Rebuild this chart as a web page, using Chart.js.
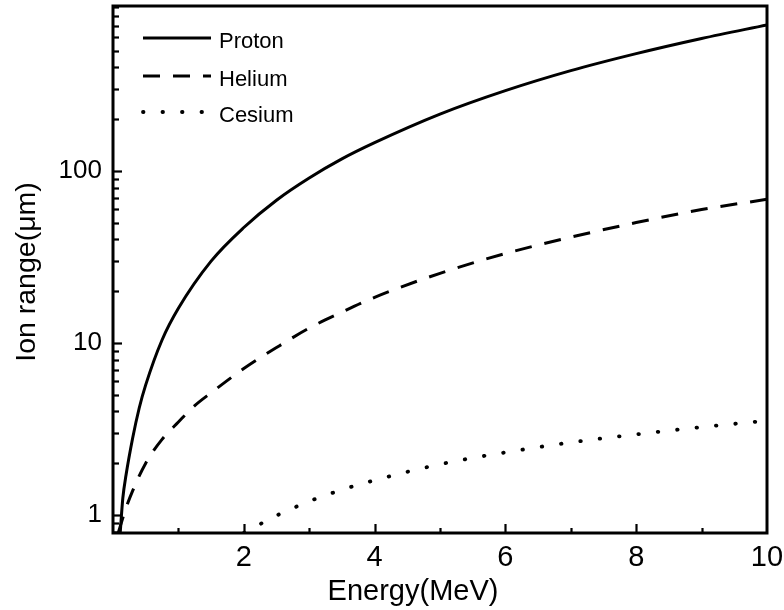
<!DOCTYPE html>
<html>
<head>
<meta charset="utf-8">
<script src="https://cdn.jsdelivr.net/npm/chart.js@4/dist/chart.umd.min.js"></script>
<style>
html,body{margin:0;padding:0;background:#fff;}
canvas{display:block;}
</style>
</head>
<body>
<canvas id="c" width="784" height="610"></canvas>
<script>
// ---- data ----
const protonEnergy = [0.11, 0.15, 0.2, 0.3, 0.4, 0.5, 0.75, 1, 1.5, 2, 2.5, 3, 3.5, 4, 5, 6, 7, 8, 9, 10];
const protonRange  = [0.785, 1.25, 1.71, 2.79, 4.17, 5.7, 10.4, 15.9, 29.9, 46.9, 67.6, 91, 117.5, 146, 214, 293, 383, 481, 589, 707];

const heliumEnergy = [0.08, 0.2, 0.3, 0.5, 0.75, 1, 1.25, 1.5, 2, 2.5, 3, 3.5, 4, 5, 6, 7, 8, 9, 10];
const heliumRange  = [0.785, 1.10, 1.38, 2.0, 2.75, 3.47, 4.32, 5.13, 7.1, 9.4, 12.2, 15.1, 18.4, 25.4, 33.1, 41.2, 50.1, 59.6, 68.4];

const cesiumEnergy = [2.0, 2.5, 3, 3.5, 4, 5, 6, 7, 8, 9, 10];
const cesiumRange  = [0.785, 0.99, 1.2, 1.40, 1.59, 1.97, 2.31, 2.64, 2.94, 3.24, 3.53];

const seriesLabels = ["Proton", "Helium", "Cesium"];
const xTickLabels = ["2", "4", "6", "8", "10"];
const yTickLabels = ["1", "10", "100"];
const xTitle = "Energy(MeV)";
const yTitle = "Ion range(\u03BCm)";

const FONT = "'Liberation Sans', Arial, sans-serif";

function pts(xs, ys){ return xs.map((x,i)=>({x:x, y:ys[i]})); }

const dashes = [[], [17, 13], [0.5, 19]];
const caps = ['butt', 'butt', 'round'];
const widths = [3, 3, 3.8];

const datasets = [
  {label: seriesLabels[0], data: pts(protonEnergy, protonRange)},
  {label: seriesLabels[1], data: pts(heliumEnergy, heliumRange)},
  {label: seriesLabels[2], data: pts(cesiumEnergy, cesiumRange)}
].map((d,i)=>Object.assign(d, {
  borderColor: '#000', backgroundColor: '#000', borderWidth: widths[i],
  pointRadius: 0, fill: false, cubicInterpolationMode: 'monotone',
  borderDash: dashes[i], borderCapStyle: caps[i]
}));

const frame = {
  id: 'frame',
  afterDraw(chart){
    const ctx = chart.ctx, a = chart.chartArea;
    const xs = chart.scales.x, ys = chart.scales.y;
    ctx.save();
    ctx.strokeStyle = '#000';
    ctx.setLineDash([]);
    ctx.lineWidth = 2.2;
    xs.ticks.forEach(t=>{
      const v = t.value;
      if (v <= xs.min || v >= xs.max) return;
      const len = (Math.round(v) % 2 === 0) ? 9 : 5;
      const p = Math.round(xs.getPixelForValue(v)) + 0.5;
      ctx.beginPath(); ctx.moveTo(p, a.bottom); ctx.lineTo(p, a.bottom - len); ctx.stroke();
    });
    ys.ticks.forEach(t=>{
      const v = t.value;
      if (v <= ys.min || v >= ys.max) return;
      const lg = Math.log10(v);
      const major = Math.abs(lg - Math.round(lg)) < 1e-9;
      const len = major ? 9 : 6;
      const p = Math.round(ys.getPixelForValue(v)) + 0.5;
      ctx.beginPath(); ctx.moveTo(a.left, p); ctx.lineTo(a.left + len, p); ctx.stroke();
    });
    ctx.lineWidth = 3;
    ctx.strokeRect(a.left, a.top, a.right - a.left, a.bottom - a.top);

    ctx.fillStyle = '#000';
    ctx.textAlign = 'center';
    ctx.textBaseline = 'alphabetic';
    ctx.font = "29px " + FONT;
    ctx.fillText(xTitle, 413, 600);
    ctx.save();
    ctx.font = "28.5px " + FONT;
    ctx.translate(35, 272);
    ctx.rotate(-Math.PI/2);
    ctx.fillText(yTitle, 0, 0);
    ctx.restore();

    const lineY = [38, 76, 112];
    const baseY = [48, 86, 122];
    ctx.font = "22px " + FONT;
    ctx.textAlign = 'left';
    chart.data.datasets.forEach((d,i)=>{
      ctx.save();
      ctx.lineWidth = d.borderWidth;
      ctx.lineCap = d.borderCapStyle;
      ctx.setLineDash(d.borderDash);
      ctx.beginPath(); ctx.moveTo(143, lineY[i]); ctx.lineTo(211, lineY[i]); ctx.stroke();
      ctx.restore();
      ctx.fillText(d.label, 219, baseY[i]);
    });
    ctx.restore();
  }
};

function zeroPad(s){ s.paddingLeft = 0; s.paddingRight = 0; s.paddingTop = 0; s.paddingBottom = 0; }

new Chart(document.getElementById('c'), {
  type: 'line',
  data: {datasets: datasets},
  options: {
    responsive: false,
    animation: false,
    devicePixelRatio: 1,
    layout: {padding: {left: 0, right: 17, top: 6, bottom: 0}},
    plugins: {legend: {display: false}, tooltip: {enabled: false}},
    scales: {
      x: {
        type: 'linear', min: 0, max: 10,
        grid: {display: false}, border: {display: false},
        ticks: {
          stepSize: 1, autoSkip: false, maxRotation: 0, color: '#000', padding: 0,
          font: {family: FONT, size: 29},
          callback: (v)=> xTickLabels.includes(String(v)) ? String(v) : ''
        },
        afterFit: (s)=>{ s.height = 77; zeroPad(s); }
      },
      y: {
        type: 'logarithmic', min: 0.785, max: 910,
        grid: {display: false}, border: {display: false},
        afterBuildTicks: (s)=>{
          const vals = [];
          for (let e = -1; e <= 2; e++) {
            for (let m = 1; m <= 9; m++) vals.push(+(m * Math.pow(10, e)).toPrecision(3));
          }
          s.ticks = vals.filter(v=>v >= s.min && v <= s.max).map(v=>({value: v}));
        },
        ticks: {
          autoSkip: false, color: '#000', padding: 3,
          font: {family: FONT, size: 26},
          callback: (v)=> yTickLabels.includes(String(v)) ? String(v) : ''
        },
        afterFit: (s)=>{ s.width = 113; zeroPad(s); }
      }
    }
  },
  plugins: [frame]
});
</script>
</body>
</html>
